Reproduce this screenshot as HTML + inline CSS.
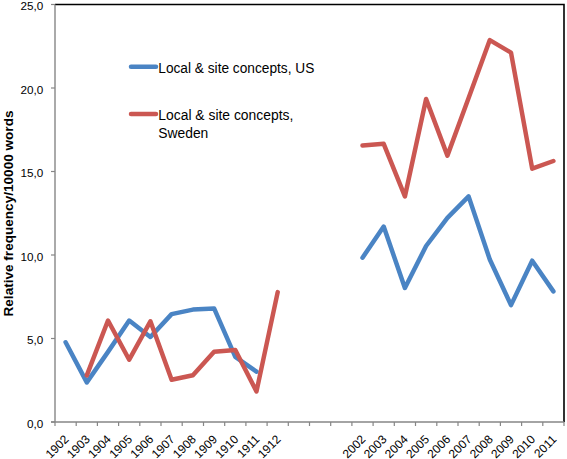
<!DOCTYPE html>
<html><head><meta charset="utf-8"><style>
html,body{margin:0;padding:0;background:#fff;}
body{width:567px;height:459px;overflow:hidden;}
svg{display:block;}
text{font-family:"Liberation Sans",sans-serif;fill:#000;}
</style></head><body>
<svg width="567" height="459" viewBox="0 0 567 459">
<rect x="0" y="0" width="567" height="459" fill="#fff"/>

<path d="M55.0,4.5 H564.0 V422.0" fill="none" stroke="#000" stroke-width="1.6"/>
<line x1="55.0" y1="4.5" x2="55.0" y2="422.0" stroke="#868686" stroke-width="1.4"/>
<line x1="51" y1="422.0" x2="55.0" y2="422.0" stroke="#868686" stroke-width="1.2"/>
<line x1="51" y1="338.5" x2="55.0" y2="338.5" stroke="#868686" stroke-width="1.2"/>
<line x1="51" y1="255.0" x2="55.0" y2="255.0" stroke="#868686" stroke-width="1.2"/>
<line x1="51" y1="171.5" x2="55.0" y2="171.5" stroke="#868686" stroke-width="1.2"/>
<line x1="51" y1="88.0" x2="55.0" y2="88.0" stroke="#868686" stroke-width="1.2"/>
<line x1="51" y1="4.5" x2="55.0" y2="4.5" stroke="#868686" stroke-width="1.2"/>
<line x1="51" y1="422.0" x2="564.0" y2="422.0" stroke="#868686" stroke-width="1.4"/>
<line x1="55.0" y1="422.0" x2="55.0" y2="426.0" stroke="#868686" stroke-width="1.2"/>
<line x1="76.2" y1="422.0" x2="76.2" y2="426.0" stroke="#868686" stroke-width="1.2"/>
<line x1="97.4" y1="422.0" x2="97.4" y2="426.0" stroke="#868686" stroke-width="1.2"/>
<line x1="118.6" y1="422.0" x2="118.6" y2="426.0" stroke="#868686" stroke-width="1.2"/>
<line x1="139.8" y1="422.0" x2="139.8" y2="426.0" stroke="#868686" stroke-width="1.2"/>
<line x1="161.0" y1="422.0" x2="161.0" y2="426.0" stroke="#868686" stroke-width="1.2"/>
<line x1="182.2" y1="422.0" x2="182.2" y2="426.0" stroke="#868686" stroke-width="1.2"/>
<line x1="203.5" y1="422.0" x2="203.5" y2="426.0" stroke="#868686" stroke-width="1.2"/>
<line x1="224.7" y1="422.0" x2="224.7" y2="426.0" stroke="#868686" stroke-width="1.2"/>
<line x1="245.9" y1="422.0" x2="245.9" y2="426.0" stroke="#868686" stroke-width="1.2"/>
<line x1="267.1" y1="422.0" x2="267.1" y2="426.0" stroke="#868686" stroke-width="1.2"/>
<line x1="288.3" y1="422.0" x2="288.3" y2="426.0" stroke="#868686" stroke-width="1.2"/>
<line x1="309.5" y1="422.0" x2="309.5" y2="426.0" stroke="#868686" stroke-width="1.2"/>
<line x1="330.7" y1="422.0" x2="330.7" y2="426.0" stroke="#868686" stroke-width="1.2"/>
<line x1="351.9" y1="422.0" x2="351.9" y2="426.0" stroke="#868686" stroke-width="1.2"/>
<line x1="373.1" y1="422.0" x2="373.1" y2="426.0" stroke="#868686" stroke-width="1.2"/>
<line x1="394.3" y1="422.0" x2="394.3" y2="426.0" stroke="#868686" stroke-width="1.2"/>
<line x1="415.5" y1="422.0" x2="415.5" y2="426.0" stroke="#868686" stroke-width="1.2"/>
<line x1="436.8" y1="422.0" x2="436.8" y2="426.0" stroke="#868686" stroke-width="1.2"/>
<line x1="458.0" y1="422.0" x2="458.0" y2="426.0" stroke="#868686" stroke-width="1.2"/>
<line x1="479.2" y1="422.0" x2="479.2" y2="426.0" stroke="#868686" stroke-width="1.2"/>
<line x1="500.4" y1="422.0" x2="500.4" y2="426.0" stroke="#868686" stroke-width="1.2"/>
<line x1="521.6" y1="422.0" x2="521.6" y2="426.0" stroke="#868686" stroke-width="1.2"/>
<line x1="542.8" y1="422.0" x2="542.8" y2="426.0" stroke="#868686" stroke-width="1.2"/>
<line x1="564.0" y1="422.0" x2="564.0" y2="426.0" stroke="#868686" stroke-width="1.2"/>
<text x="43.3" y="427.6" font-size="11.7" text-anchor="end">0,0</text>
<text x="43.3" y="344.1" font-size="11.7" text-anchor="end">5,0</text>
<text x="43.3" y="260.6" font-size="11.7" text-anchor="end">10,0</text>
<text x="43.3" y="177.1" font-size="11.7" text-anchor="end">15,0</text>
<text x="43.3" y="93.6" font-size="11.7" text-anchor="end">20,0</text>
<text x="43.3" y="10.1" font-size="11.7" text-anchor="end">25,0</text>
<text transform="translate(13.0,213.5) rotate(-90)" font-size="13" font-weight="bold" text-anchor="middle" textLength="206" lengthAdjust="spacingAndGlyphs">Relative frequency/10000 words</text>
<text transform="translate(66.6,437.3) rotate(-45)" font-size="12" text-anchor="end" dy="4">1902</text>
<text transform="translate(87.8,437.3) rotate(-45)" font-size="12" text-anchor="end" dy="4">1903</text>
<text transform="translate(109.0,437.3) rotate(-45)" font-size="12" text-anchor="end" dy="4">1904</text>
<text transform="translate(130.2,437.3) rotate(-45)" font-size="12" text-anchor="end" dy="4">1905</text>
<text transform="translate(151.4,437.3) rotate(-45)" font-size="12" text-anchor="end" dy="4">1906</text>
<text transform="translate(172.6,437.3) rotate(-45)" font-size="12" text-anchor="end" dy="4">1907</text>
<text transform="translate(193.9,437.3) rotate(-45)" font-size="12" text-anchor="end" dy="4">1908</text>
<text transform="translate(215.1,437.3) rotate(-45)" font-size="12" text-anchor="end" dy="4">1909</text>
<text transform="translate(236.3,437.3) rotate(-45)" font-size="12" text-anchor="end" dy="4">1910</text>
<text transform="translate(257.5,437.3) rotate(-45)" font-size="12" text-anchor="end" dy="4">1911</text>
<text transform="translate(278.7,437.3) rotate(-45)" font-size="12" text-anchor="end" dy="4">1912</text>
<text transform="translate(363.5,437.3) rotate(-45)" font-size="12" text-anchor="end" dy="4">2002</text>
<text transform="translate(384.7,437.3) rotate(-45)" font-size="12" text-anchor="end" dy="4">2003</text>
<text transform="translate(405.9,437.3) rotate(-45)" font-size="12" text-anchor="end" dy="4">2004</text>
<text transform="translate(427.1,437.3) rotate(-45)" font-size="12" text-anchor="end" dy="4">2005</text>
<text transform="translate(448.4,437.3) rotate(-45)" font-size="12" text-anchor="end" dy="4">2006</text>
<text transform="translate(469.6,437.3) rotate(-45)" font-size="12" text-anchor="end" dy="4">2007</text>
<text transform="translate(490.8,437.3) rotate(-45)" font-size="12" text-anchor="end" dy="4">2008</text>
<text transform="translate(512.0,437.3) rotate(-45)" font-size="12" text-anchor="end" dy="4">2009</text>
<text transform="translate(533.2,437.3) rotate(-45)" font-size="12" text-anchor="end" dy="4">2010</text>
<text transform="translate(554.4,437.3) rotate(-45)" font-size="12" text-anchor="end" dy="4">2011</text>
<polyline points="65.6,342.3 86.8,382.4 108.0,351.9 129.2,320.5 150.4,337.0 171.6,314.1 192.9,309.6 214.1,308.4 235.3,356.9 256.5,371.6" stroke="#4A84C4" fill="none" stroke-width="4.5" stroke-linejoin="round" stroke-linecap="round"/>
<polyline points="362.5,257.7 383.7,226.6 404.9,287.9 426.1,246.0 447.4,217.9 468.6,196.4 489.8,259.5 511.0,305.1 532.2,260.7 553.4,291.4" stroke="#4A84C4" fill="none" stroke-width="4.5" stroke-linejoin="round" stroke-linecap="round"/>
<polyline points="86.8,375.4 108.0,320.5 129.2,359.7 150.4,321.3 171.6,379.7 192.9,375.2 214.1,351.7 235.3,349.9 256.5,391.4 277.7,292.1" stroke="#CB5752" fill="none" stroke-width="4.5" stroke-linejoin="round" stroke-linecap="round"/>
<polyline points="362.5,145.6 383.7,143.8 404.9,196.4 426.1,99.0 447.4,155.6 468.6,98.0 489.8,40.1 511.0,52.6 532.2,168.7 553.4,161.0" stroke="#CB5752" fill="none" stroke-width="4.5" stroke-linejoin="round" stroke-linecap="round"/>
<line x1="131" y1="66.7" x2="156" y2="66.7" stroke="#4A84C4" fill="none" stroke-width="4.5" stroke-linejoin="round" stroke-linecap="round"/>
<line x1="131" y1="113.9" x2="156" y2="113.9" stroke="#CB5752" fill="none" stroke-width="4.5" stroke-linejoin="round" stroke-linecap="round"/>
<text x="158.3" y="72.9" font-size="14" textLength="156.0" lengthAdjust="spacingAndGlyphs">Local &amp; site concepts, US</text>
<text x="158.3" y="120.0" font-size="14" textLength="135.0" lengthAdjust="spacingAndGlyphs">Local &amp; site concepts,</text>
<text x="158.3" y="137.8" font-size="14" textLength="50.0" lengthAdjust="spacingAndGlyphs">Sweden</text>
</svg>
</body></html>
